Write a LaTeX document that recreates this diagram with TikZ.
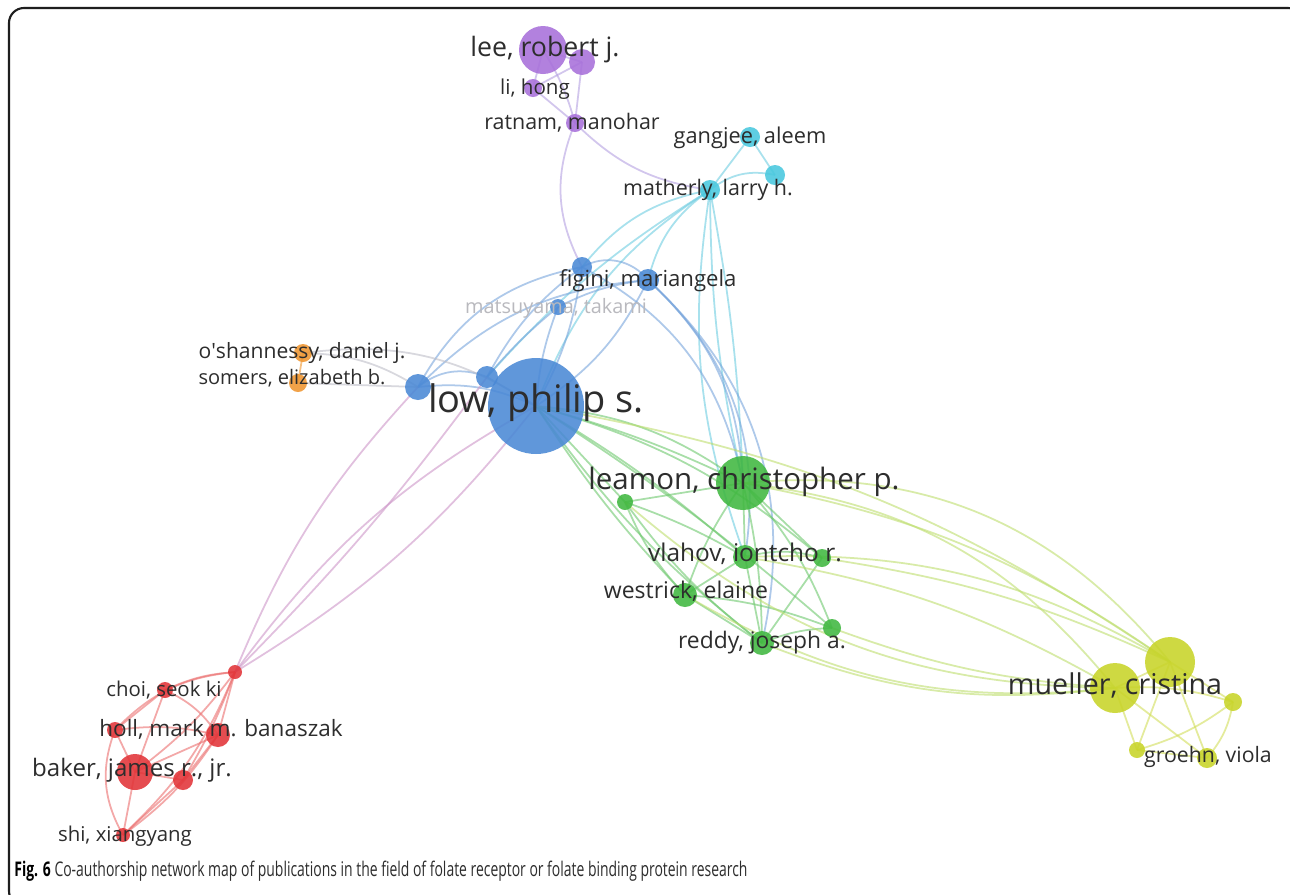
\documentclass[tikz,border=0pt]{standalone}
\usepackage{fontspec}
\setmainfont{Open Sans}
\pgfdeclarelayer{bg}
\pgfdeclarelayer{edges}
\pgfsetlayers{bg,edges,main}
\definecolor{cblue}{RGB}{74,137,214}
\definecolor{cpurple}{RGB}{168,112,218}
\definecolor{ccyan}{RGB}{72,200,222}
\definecolor{corange}{RGB}{240,150,48}
\definecolor{cgreen}{RGB}{64,184,64}
\definecolor{cyellow}{RGB}{200,212,40}
\definecolor{cred}{RGB}{226,52,56}
\definecolor{labc}{RGB}{45,45,45}
\definecolor{eblue}{RGB}{120,165,220}
\definecolor{epurple}{RGB}{180,160,225}
\definecolor{ecyan}{RGB}{110,205,225}
\definecolor{egreen}{RGB}{110,200,110}
\definecolor{eyg}{RGB}{190,222,110}
\definecolor{eyel}{RGB}{210,222,90}
\definecolor{ered}{RGB}{235,110,110}
\definecolor{epink}{RGB}{205,150,200}
\definecolor{egray}{RGB}{190,190,200}
\tikzset{
  dot/.style 2 args={circle, inner sep=0pt, minimum size=#2*0.4mm, fill=#1, fill opacity=0.88},
  lab/.style={text=labc, inner sep=0pt, text height=0.74em, text depth=0pt, anchor=center,
              font=\fontsize{#1}{#1}\selectfont},
  ed/.style={draw=#1, line width=1pt, opacity=0.6},
}
\begin{document}
\begin{tikzpicture}[x=0.02cm,y=-0.02cm]
\useasboundingbox (0,0) rectangle (1290,894);
\begin{pgfonlayer}{bg}
\fill[white] (0,0) rectangle (1290,894);
\end{pgfonlayer}
\draw[line width=1.2pt, draw={rgb,255:red,30;green,30;blue,30}, rounded corners=0.3cm] (9,8) rectangle (1303,906);

% ---------- nodes ----------
\node[dot={cblue}{48}] (low) at (536,406) {};
\node[dot={cblue}{13}] (bl1) at (418,387) {};
\node[dot={cblue}{11}] (bl2) at (487,377) {};
\node[dot={cblue}{8}] (mats) at (558,307) {};
\node[dot={cblue}{10}] (fig1) at (582,267) {};
\node[dot={cblue}{11}] (fig) at (648,280) {};
\node[dot={cpurple}{24}] (lee) at (543,50) {};
\node[dot={cpurple}{13}] (pu2) at (582,62) {};
\node[dot={cpurple}{9}] (li) at (533,88) {};
\node[dot={cpurple}{9}] (rat) at (575,123) {};
\node[dot={ccyan}{10}] (gan) at (750,137) {};
\node[dot={ccyan}{10}] (mat) at (710,190) {};
\node[dot={ccyan}{10}] (cy3) at (775,175) {};
\node[dot={corange}{9}] (osh) at (303,353) {};
\node[dot={corange}{9}] (som) at (298,383) {};
\node[dot={cgreen}{27}] (lea) at (743,483) {};
\node[dot={cgreen}{8}] (gr1) at (625,502) {};
\node[dot={cgreen}{12}] (vla) at (745,557) {};
\node[dot={cgreen}{9}] (gr2) at (822,558) {};
\node[dot={cgreen}{12}] (wes) at (685,595) {};
\node[dot={cgreen}{9}] (gr3) at (832,628) {};
\node[dot={cgreen}{12}] (red) at (762,643) {};
\node[dot={cyellow}{25}] (mue) at (1115,688) {};
\node[dot={cyellow}{25}] (ye2) at (1170,662) {};
\node[dot={cyellow}{9}] (ye3) at (1233,702) {};
\node[dot={cyellow}{8}] (ye4) at (1137,750) {};
\node[dot={cyellow}{10}] (gro) at (1207,758) {};
\node[dot={cred}{7}] (hub) at (235,672) {};
\node[dot={cred}{8}] (choi) at (165,690) {};
\node[dot={cred}{8}] (holl) at (115,730) {};
\node[dot={cred}{12}] (ban) at (218,735) {};
\node[dot={cred}{18}] (bak) at (135,772) {};
\node[dot={cred}{10}] (rd2) at (183,780) {};
\node[dot={cred}{7}] (shi) at (123,835) {};

% ---------- edges ----------
\begin{pgfonlayer}{edges}
% purple
\draw[ed=epurple] (lee.center) -- (pu2.center);
\draw[ed=epurple] (lee.center) -- (li.center);
\draw[ed=epurple] (pu2.center) -- (li.center);
\draw[ed=epurple] (lee.center) to[bend left=8] (rat.center);
\draw[ed=epurple] (pu2.center) -- (rat.center);
\draw[ed=epurple] (li.center) -- (rat.center);
\draw[ed=epurple] (rat.center) to[bend right=25] (fig1.center);
\draw[ed=epurple] (rat.center) to[bend right=18] (mat.center);
% cyan
\draw[ed=ecyan] (gan.center) -- (mat.center);
\draw[ed=ecyan] (gan.center) -- (cy3.center);
\draw[ed=ecyan] (mat.center) to[bend left=25] (cy3.center);
\draw[ed=ecyan] (mat.center) to[bend right=20] (fig1.center);
\draw[ed=ecyan] (mat.center) to[bend right=20] (fig.center);
\draw[ed=ecyan] (mat.center) to[bend right=6] (lea.center);
\draw[ed=ecyan] (mat.center) to[bend left=4] (lea.center);
\draw[ed=ecyan] (mat.center) to[bend right=14] (vla.center);
\draw[ed=ecyan] (mat.center) to[bend right=18] (low.center);
\draw[ed=ecyan] (mat.center) to[bend right=8] (bl2.center);
% blue
\draw[ed=eblue] (bl1.center) to[bend left=30] (bl2.center);
\draw[ed=eblue] (bl1.center) to[bend left=15] (low.center);
\draw[ed=eblue] (bl2.center) -- (low.center);
\draw[ed=eblue] (bl1.center) to[bend left=25] (fig1.center);
\draw[ed=eblue] (bl1.center) to[bend left=20] (fig.center);
\draw[ed=eblue] (bl2.center) to[bend left=12] (fig1.center);
\draw[ed=eblue] (bl2.center) to[bend left=5] (mats.center);
\draw[ed=eblue] (low.center) to[bend left=8] (mats.center);
\draw[ed=eblue] (low.center) to[bend right=10] (fig1.center);
\draw[ed=eblue] (low.center) to[bend right=15] (fig.center);
\draw[ed=eblue] (mats.center) to[bend left=10] (fig.center);
\draw[ed=eblue] (fig1.center) to[bend left=40] (fig.center);
\draw[ed=eblue] (fig.center) to[bend left=22] (lea.center);
\draw[ed=eblue] (fig.center) to[bend left=28] (vla.center);
\draw[ed=eblue] (fig1.center) to[bend left=25] (lea.center);
\draw[ed=eblue] (fig.center) to[bend left=30] (red.center);
% orange / gray
\draw[ed=corange] (osh.center) -- (som.center);
\draw[ed=egray] (osh.center) to[bend left=15] (bl1.center);
\draw[ed=egray] (som.center) -- (bl1.center);
\draw[ed=egray] (osh.center) to[bend left=20] (low.center);
% low to red cluster
\draw[ed=epink] (low.center) to[bend left=10] (hub.center);
\draw[ed=epink] (low.center) to[bend right=12] (hub.center);
\draw[ed=epink] (bl1.center) to[bend right=10] (hub.center);
\draw[ed=epink] (bl2.center) to[bend left=4] (hub.center);
% low to green
\draw[ed=egreen] (low.center) to[bend left=15] (lea.center);
\draw[ed=egreen] (low.center) to[bend left=5] (lea.center);
\draw[ed=egreen] (low.center) -- (gr1.center);
\draw[ed=egreen] (low.center) to[bend left=5] (vla.center);
\draw[ed=egreen] (low.center) to[bend right=5] (wes.center);
\draw[ed=egreen] (low.center) to[bend right=8] (red.center);
\draw[ed=egreen] (low.center) to[bend left=12] (gr2.center);
\draw[ed=egreen] (low.center) to[bend left=4] (gr3.center);
% green internal
\draw[ed=egreen] (lea.center) -- (gr1.center);
\draw[ed=egreen] (lea.center) -- (vla.center);
\draw[ed=egreen] (lea.center) to[bend right=8] (wes.center);
\draw[ed=egreen] (lea.center) to[bend left=6] (red.center);
\draw[ed=egreen] (lea.center) -- (gr2.center);
\draw[ed=egreen] (lea.center) to[bend left=10] (gr3.center);
\draw[ed=egreen] (vla.center) -- (wes.center);
\draw[ed=egreen] (vla.center) -- (red.center);
\draw[ed=egreen] (vla.center) to[bend left=15] (gr2.center);
\draw[ed=egreen] (wes.center) -- (red.center);
\draw[ed=egreen] (wes.center) to[bend left=8] (gr3.center);
\draw[ed=egreen] (red.center) to[bend left=10] (gr3.center);
\draw[ed=egreen] (gr1.center) to[bend right=10] (wes.center);
\draw[ed=egreen] (gr1.center) to[bend right=8] (red.center);
\draw[ed=egreen] (gr1.center) to[bend left=5] (vla.center);
\draw[ed=egreen] (gr2.center) -- (red.center);
% green to yellow
\draw[ed=eyg] (lea.center) to[bend left=22] (mue.center);
\draw[ed=eyg] (lea.center) to[bend left=28] (ye2.center);
\draw[ed=eyg] (lea.center) to[bend left=12] (ye2.center);
\draw[ed=eyg] (vla.center) to[bend left=10] (mue.center);
\draw[ed=eyg] (vla.center) to[bend left=16] (ye2.center);
\draw[ed=eyg] (red.center) to[bend right=14] (mue.center);
\draw[ed=eyg] (gr3.center) to[bend right=8] (mue.center);
\draw[ed=eyg] (wes.center) to[bend right=18] (mue.center);
\draw[ed=eyg] (gr2.center) to[bend left=8] (ye2.center);
\draw[ed=eyg] (gr1.center) to[bend right=20] (mue.center);
\draw[ed=eyg] (low.center) to[bend left=12] (ye2.center);
% yellow internal
\draw[ed=eyel] (mue.center) -- (ye2.center);
\draw[ed=eyel] (mue.center) -- (ye4.center);
\draw[ed=eyel] (mue.center) -- (gro.center);
\draw[ed=eyel] (mue.center) to[bend left=10] (ye3.center);
\draw[ed=eyel] (ye2.center) -- (ye3.center);
\draw[ed=eyel] (ye2.center) -- (gro.center);
\draw[ed=eyel] (ye2.center) -- (ye4.center);
\draw[ed=eyel] (ye3.center) to[bend left=15] (gro.center);
\draw[ed=eyel] (ye4.center) -- (gro.center);
\draw[ed=eyel] (ye4.center) to[bend right=10] (ye3.center);
% red internal
\draw[ed=ered] (hub.center) to[bend right=10] (choi.center);
\draw[ed=ered] (hub.center) to[bend right=20] (holl.center);
\draw[ed=ered] (hub.center) -- (ban.center);
\draw[ed=ered] (hub.center) to[bend left=8] (bak.center);
\draw[ed=ered] (hub.center) to[bend left=5] (rd2.center);
\draw[ed=ered] (hub.center) to[bend left=12] (shi.center);
\draw[ed=ered] (choi.center) -- (holl.center);
\draw[ed=ered] (choi.center) to[bend left=15] (ban.center);
\draw[ed=ered] (choi.center) -- (bak.center);
\draw[ed=ered] (holl.center) -- (bak.center);
\draw[ed=ered] (holl.center) to[bend left=10] (ban.center);
\draw[ed=ered] (ban.center) -- (bak.center);
\draw[ed=ered] (ban.center) -- (rd2.center);
\draw[ed=ered] (bak.center) -- (rd2.center);
\draw[ed=ered] (bak.center) -- (shi.center);
\draw[ed=ered] (rd2.center) -- (shi.center);
\draw[ed=ered] (ban.center) to[bend left=10] (shi.center);
\draw[ed=ered] (holl.center) to[bend right=25] (shi.center);
\end{pgfonlayer}

% ---------- labels ----------
\node[lab=21.6] (l-low) at (536,406) {low, philip s.};
\node[lab=15.2] (l-lee) at (545,50) {lee, robert j.};
\node[lab=11.7] (l-li) at (535,88) {li, hong};
\node[lab=12.2] (l-rat) at (572,123) {ratnam, manohar};
\node[lab=12.4] (l-gan) at (750,137) {gangjee, aleem};
\node[lab=12.2] (l-mat) at (708,189) {matherly, larry h.};
\node[lab=12.6] (l-fig) at (648,280) {figini, mariangela};
\node[lab=11.3, text={rgb,255:red,185;green,185;blue,190}] (l-mats) at (556,307) {matsuyama, takami};
\node[lab=12] (l-osh) at (302,352) {o\textquotesingle shannessy, daniel j.};
\node[lab=11.4] (l-som) at (292,378) {somers, elizabeth b.};
\node[lab=16.8] (l-lea) at (744,483) {leamon, christopher p.};
\node[lab=13.9] (l-vla) at (745,555) {vlahov, iontcho r.};
\node[lab=13.1] (l-wes) at (686,592) {westrick, elaine};
\node[lab=13] (l-red) at (762,642) {reddy, joseph a.};
\node[lab=16.3] (l-mue) at (1115,688) {mueller, cristina};
\node[lab=12.1] (l-gro) at (1208,756) {groehn, viola};
\node[lab=11.6] (l-choi) at (164,690) {choi, seok ki};
\node[lab=12.8] (l-holl) at (221,730) {holl, mark m. banaszak};
\node[lab=13.7] (l-bak) at (132,770) {baker, james r., jr.};
\node[lab=11.6] (l-shi) at (125,835) {shi, xiangyang};

% ---------- caption ----------
\node[anchor=base west, inner sep=0pt, text=labc] (cap) at (14,876)
  {\scalebox{0.69}[1]{\fontsize{11.5}{13}\selectfont\textbf{\color{black}Fig. 6} Co-authorship network map of publications in the field of folate receptor or folate binding protein research}};
\end{tikzpicture}
\end{document}
